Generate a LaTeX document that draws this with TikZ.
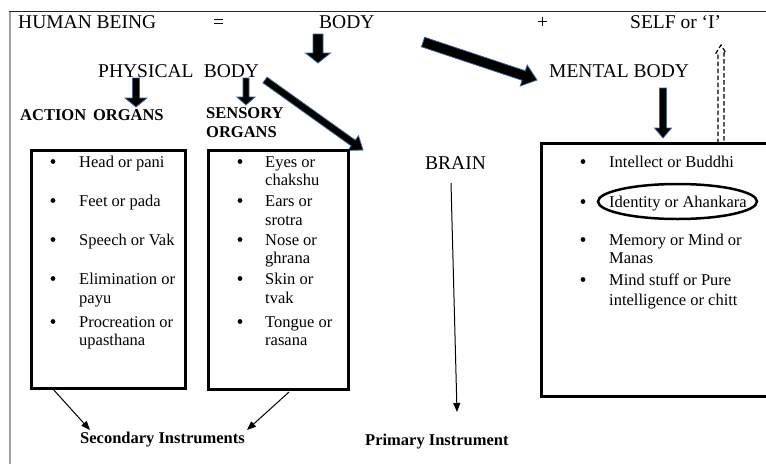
\documentclass[tikz,border=0pt]{standalone}
\usepackage{fontspec}
\setmainfont{Liberation Serif}
\usetikzlibrary{calc,arrows.meta}
\definecolor{arrowblue}{HTML}{3F6590}
\tikzset{
  bigtxt/.style={font=\fontsize{19.5}{22}\selectfont, anchor=base west, inner sep=0pt},
  item/.style={font=\fontsize{16.5}{18.5}\selectfont, anchor=base west, inner sep=0pt},
  bhead/.style={font=\fontsize{16.5}{19}\selectfont\bfseries, anchor=base west, inner sep=0pt},
  blk/.style={fill=black, draw=arrowblue, line width=0.8pt, line join=miter},
  dashblk/.style={draw=black, line width=1.2pt, dash pattern=on 4.5pt off 2.5pt},
  listbox/.style={draw=black, line width=3pt},
  thinarrow/.style={-{Triangle[length=9pt,width=7pt]}, line width=1pt},
}
% block arrow: #1 start, #2 tip, #3 half shaft, #4 half head, #5 head length, #6 style
\newcommand\blockarr[6]{%
  \coordinate (hb) at ($(#2)!#5!(#1)$);
  \path[#6] ($(#1)!#3!90:(#2)$) -- ($(hb)!#3!-90:(#1)$) -- ($(hb)!#4!-90:(#1)$)
    -- (#2) -- ($(hb)!#4!90:(#1)$) -- ($(hb)!#3!90:(#1)$) -- ($(#1)!#3!-90:(#2)$) -- cycle;
}
\newcommand\bulletat[2]{\fill (#1,#2-5.5) circle (2.4);}
\begin{document}
\begin{tikzpicture}[x=1pt,y=-1pt]
\clip (0,0) rectangle (766,464);
\fill[white] (0,0) rectangle (766,464);
% frame
\draw[gray!75, line width=2pt] (9.5,464) -- (9.5,11);
\draw[black!85, line width=1pt] (9,11) -- (766,11);

% title line
\node[bigtxt] (hb1) at (18,28) {HUMAN BEING};
\node[bigtxt] (eq) at (213,28) {=};
\node[bigtxt] (body) at (319,28) {BODY};
\node[bigtxt] (plus) at (537,28) {+};
\node[bigtxt] (self) at (630,28) {SELF or `I'};

\node[bigtxt] (phys) at (98,77) {PHYSICAL\; BODY};
\node[bigtxt] (ment) at (549,77) {MENTAL BODY};

\node[bhead] (act) at (20,120) {ACTION\, ORGANS};
\node[bhead] (sens1) at (206,118) {SENSORY};
\node[bhead] (sens2) at (206,137) {ORGANS};

\node[bigtxt] (brain) at (425,169) {BRAIN};

% block arrows
\coordinate (bodyA) at (318,34);  \coordinate (bodyB) at (318,63);
\coordinate (pa1) at (136,78);    \coordinate (pb1) at (136,107);
\coordinate (pa2) at (246,78);    \coordinate (pb2) at (246,105);
\coordinate (menA) at (423,42);   \coordinate (menB) at (537,80);
\coordinate (brA) at (265,80);    \coordinate (brB) at (363,150);
\coordinate (mdA) at (663,88);    \coordinate (mdB) at (663,138);
\coordinate (slA) at (721,143);   \coordinate (slB) at (721,45);
\blockarr{bodyA}{bodyB}{5pt}{12.5pt}{10pt}{blk}
\blockarr{pa1}{pb1}{3.5pt}{11pt}{9pt}{blk}
\blockarr{pa2}{pb2}{3pt}{9pt}{8pt}{blk}
\blockarr{menA}{menB}{5pt}{11pt}{14pt}{blk}
\blockarr{brA}{brB}{3.5pt}{9pt}{12pt}{blk}
\blockarr{mdA}{mdB}{3.5pt}{8.5pt}{10pt}{blk}
\blockarr{slA}{slB}{3pt}{5pt}{8pt}{dashblk}

% boxes
\draw[listbox] (31.5,150.5) rectangle (185.5,388.5);
\draw[listbox] (208.5,150.5) rectangle (348.5,389.5);
\draw[listbox] (541.5,143.5) rectangle (800,396.5);

% action organs list
\foreach \y in {167,206,245,284,327} {\bulletat{53}{\y}}
\node[item] (a1) at (79,167) {Head or pani};
\node[item] (a2) at (79,206) {Feet or pada};
\node[item] (a3) at (79,245) {Speech or Vak};
\node[item] (a4) at (79,284) {Elimination or};
\node[item] (a4b) at (79,303) {payu};
\node[item] (a5) at (79,327) {Procreation or};
\node[item] (a5b) at (79,345) {upasthana};

% sensory organs list
\foreach \y in {167,206,245,284,327} {\bulletat{240}{\y}}
\node[item] (s1) at (265,167) {Eyes or};
\node[item] (s1b) at (265,185) {chakshu};
\node[item] (s2) at (265,206) {Ears or};
\node[item] (s2b) at (265,225) {srotra};
\node[item] (s3) at (265,245) {Nose or};
\node[item] (s3b) at (265,263) {ghrana};
\node[item] (s4) at (265,284) {Skin or};
\node[item] (s4b) at (265,303) {tvak};
\node[item] (s5) at (265,327) {Tongue or};
\node[item] (s5b) at (265,345) {rasana};

% mental body list
\foreach \y in {167,207,245,285} {\bulletat{583}{\y}}
\node[item] (m1) at (609,167) {Intellect or Buddhi};
\node[item] (m2) at (609,207) {Identity or Ahankara};
\node[item] (m3) at (609,245) {Memory or Mind or};
\node[item] (m3b) at (609,263) {Manas};
\node[item] (m4) at (609,285) {Mind stuff or Pure};
\node[item] (m4b) at (609,305) {intelligence or chitt};
\draw[line width=2.5pt] (677.5,201.5) ellipse [x radius=79.5, y radius=17.5];

% instruments
\node[bhead] (sec) at (80,443) {Secondary Instruments};
\node[bhead] (prim) at (365,445) {Primary Instrument};
\coordinate (sA1) at (52,388);  \coordinate (sB1) at (90,430);
\coordinate (sA2) at (289,392); \coordinate (sB2) at (247,430);
\coordinate (bA) at (451,183);  \coordinate (bB) at (457,412);
\draw[thinarrow] (sA1) -- (sB1);
\draw[thinarrow] (sA2) -- (sB2);
\draw[thinarrow] (bA) -- (bB);
\end{tikzpicture}
\end{document}
